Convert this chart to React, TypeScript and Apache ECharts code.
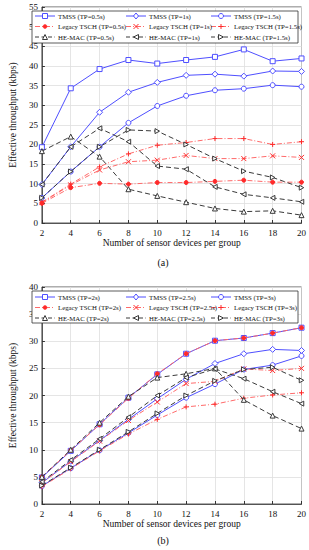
import React, { useEffect, useRef } from "react";
import * as echarts from "echarts";

const xValues = [2, 4, 6, 8, 10, 12, 14, 16, 18, 20];

// Chart (a)
const tmss05 = [19.3, 34.3, 39.2, 41.5, 40.6, 41.5, 42.3, 44.2, 41.2, 41.9];
const tmss1 = [9.8, 19.4, 28.2, 33.3, 35.8, 37.6, 37.9, 37.4, 38.7, 38.6];
const tmss15 = [6.4, 13.1, 19.4, 25.5, 29.8, 32.4, 33.8, 34.2, 35.1, 34.7];
const legacy05 = [5.0, 9.0, 10.1, 9.9, 10.3, 10.3, 10.6, 10.9, 10.4, 10.4];
const legacy1 = [5.2, 9.7, 13.5, 15.6, 16.0, 17.2, 16.4, 16.4, 17.1, 16.7];
const legacy15 = [5.3, 9.9, 14.3, 17.6, 19.8, 20.5, 21.5, 21.5, 20.0, 20.7];
const hemac05 = [18.3, 22.0, 16.9, 8.6, 6.9, 5.3, 3.7, 2.9, 3.1, 2.0];
const hemac1 = [9.8, 19.4, 24.1, 20.7, 14.5, 13.7, 9.2, 7.3, 6.4, 5.4];
const hemac15 = [6.4, 13.1, 19.4, 23.7, 23.4, 20.0, 16.4, 13.2, 11.6, 9.0];

// Chart (b)
const tmss2 = [4.9, 9.8, 14.7, 19.6, 23.9, 27.7, 30.1, 30.6, 31.5, 32.5];
const tmss25 = [3.9, 7.9, 11.7, 15.6, 19.4, 23.0, 25.9, 27.7, 28.5, 28.3];
const tmss3 = [3.3, 6.6, 9.9, 13.1, 16.4, 19.6, 22.1, 24.8, 25.6, 27.3];
const legacy2 = [5.0, 9.9, 14.6, 19.5, 24.0, 27.7, 30.1, 30.6, 31.5, 32.5];
const legacy25 = [3.9, 7.8, 11.6, 15.4, 18.8, 22.2, 22.6, 24.9, 24.6, 25.0];
const legacy3 = [3.2, 6.5, 9.8, 12.9, 15.6, 17.9, 18.4, 19.5, 20.1, 20.5];
const hemac2 = [5.0, 10.0, 15.0, 19.8, 23.3, 24.0, 25.0, 19.2, 16.3, 13.9];
const hemac25 = [4.1, 8.1, 12.0, 16.0, 20.0, 23.3, 24.9, 23.1, 20.7, 18.5];
const hemac3 = [3.4, 6.7, 10.0, 13.3, 16.7, 20.0, 22.7, 24.8, 25.2, 22.8];

const tpA = ["0.5s", "1s", "1.5s"];
const tpB = ["2s", "2.5s", "3s"];
const methods = ["TMSS", "Legacy TSCH", "HE-MAC"];

const FONT = "Liberation Serif";
const BLUE = "#4f4fff";
const RED = "#ff2a2a";
const RED_LINE = "#ff6a6a";
const DARK = "#3a3a3a";

const SYM_X = "path://M0,0L10,10M10,0L0,10";
const SYM_PLUS = "path://M5,0L5,10M0,5L10,5";
const SYM_TRI_L = "path://M0,5L9,0L9,10Z";
const SYM_TRI_R = "path://M9,5L0,0L0,10Z";

const tmssSymbols = ["rect", "diamond", "circle"];
const legacySymbols = ["circle", SYM_X, SYM_PLUS];
const hemacSymbols = ["triangle", SYM_TRI_L, SYM_TRI_R];

function pairs(vals: number[]) {
  return xValues.map((x, i) => [x, vals[i]]);
}

function tmssSeries(name: string, vals: number[], k: number, gi: number) {
  return {
    name,
    type: "line",
    xAxisIndex: gi,
    yAxisIndex: gi,
    data: pairs(vals),
    symbol: tmssSymbols[k],
    symbolSize: k === 1 ? 6 : 5,
    lineStyle: { color: BLUE, width: 1, type: "solid" },
    itemStyle: { color: "#ffffff", borderColor: BLUE, borderWidth: 1 },
    z: 2,
  };
}
function legacySeries(name: string, vals: number[], k: number, gi: number) {
  return {
    name,
    type: "line",
    xAxisIndex: gi,
    yAxisIndex: gi,
    data: pairs(vals),
    symbol: legacySymbols[k],
    symbolSize: k === 0 ? 4 : 5,
    symbolKeepAspect: true,
    lineStyle: { color: RED_LINE, width: 1, type: [5, 2, 1, 2] },
    itemStyle: { color: RED, borderColor: RED, borderWidth: 1 },
    z: 3,
  };
}
function hemacSeries(name: string, vals: number[], k: number, gi: number) {
  return {
    name,
    type: "line",
    xAxisIndex: gi,
    yAxisIndex: gi,
    data: pairs(vals),
    symbol: hemacSymbols[k],
    symbolSize: 5,
    symbolKeepAspect: true,
    lineStyle: { color: DARK, width: 1, type: [5, 3] },
    itemStyle: { color: "#ffffff", borderColor: DARK, borderWidth: 1 },
    z: 4,
  };
}

// Legend drawn as graphics for precise icon sizes
function legendMarker(method: number, k: number, cx: number, cy: number): any[] {
  const Z = 21;
  if (method === 0) {
    const st = { fill: "#fff", stroke: BLUE, lineWidth: 1 };
    if (k === 0) return [{ type: "rect", z: Z, shape: { x: cx - 2.5, y: cy - 2.5, width: 5, height: 5 }, style: st }];
    if (k === 1) return [{ type: "polygon", z: Z, shape: { points: [[cx, cy - 3], [cx + 2.5, cy], [cx, cy + 3], [cx - 2.5, cy]] }, style: st }];
    return [{ type: "circle", z: Z, shape: { cx, cy, r: 2.5 }, style: st }];
  }
  if (method === 1) {
    const st = { stroke: RED, lineWidth: 1 };
    if (k === 0) return [{ type: "circle", z: Z, shape: { cx, cy, r: 2 }, style: { fill: RED, stroke: RED, lineWidth: 0.5 } }];
    if (k === 1)
      return [
        { type: "line", z: Z, shape: { x1: cx - 2.5, y1: cy - 2.5, x2: cx + 2.5, y2: cy + 2.5 }, style: st },
        { type: "line", z: Z, shape: { x1: cx + 2.5, y1: cy - 2.5, x2: cx - 2.5, y2: cy + 2.5 }, style: st },
      ];
    return [
      { type: "line", z: Z, shape: { x1: cx, y1: cy - 2.5, x2: cx, y2: cy + 2.5 }, style: st },
      { type: "line", z: Z, shape: { x1: cx - 2.5, y1: cy, x2: cx + 2.5, y2: cy }, style: st },
    ];
  }
  const st = { fill: "#fff", stroke: DARK, lineWidth: 1 };
  if (k === 0) return [{ type: "polygon", z: Z, shape: { points: [[cx, cy - 2.5], [cx + 2.5, cy + 2.5], [cx - 2.5, cy + 2.5]] }, style: st }];
  if (k === 1) return [{ type: "polygon", z: Z, shape: { points: [[cx - 2.5, cy], [cx + 2.5, cy - 2.5], [cx + 2.5, cy + 2.5]] }, style: st }];
  return [{ type: "polygon", z: Z, shape: { points: [[cx + 2.5, cy], [cx - 2.5, cy - 2.5], [cx - 2.5, cy + 2.5]] }, style: st }];
}

function legendGraphics(tps: string[], boxTop: number, rowYs: number[]): any[] {
  const colX = [35, 126, 211];
  const out: any[] = [
    { type: "rect", z: 20, shape: { x: 32, y: boxTop, width: 266, height: 32 }, style: { fill: "#fff", stroke: "#333", lineWidth: 0.8 } },
  ];
  const lineStyles = [
    { stroke: BLUE, lineWidth: 1 },
    { stroke: RED_LINE, lineWidth: 1, lineDash: [5, 2, 1, 2] },
    { stroke: DARK, lineWidth: 1, lineDash: [4, 2.5] },
  ];
  tps.forEach((tp, c) => {
    methods.forEach((m, r) => {
      const x0 = colX[c];
      const y = rowYs[r];
      out.push({ type: "line", z: 21, shape: { x1: x0, y1: y, x2: x0 + 20, y2: y }, style: lineStyles[r] });
      out.push(...legendMarker(r, c, x0 + 10, y));
      out.push({
        type: "text",
        z: 22,
        x: x0 + 23,
        y,
        style: { text: `${m} (TP=${tp})`, fontFamily: FONT, fontSize: 6.8, fill: "#111", textAlign: "left", textVerticalAlign: "middle" },
      });
    });
  });
  return out;
}

function xAxis(gi: number) {
  return {
    type: "value",
    gridIndex: gi,
    min: 2,
    max: 20,
    interval: 2,
    name: "Number of sensor devices per group",
    nameLocation: "middle",
    nameGap: 15,
    nameTextStyle: { fontFamily: FONT, fontSize: 9.5, color: "#111" },
    axisLine: { show: true, lineStyle: { color: "#333", width: 0.8 } },
    axisTick: { show: true, inside: true, length: 3, lineStyle: { color: "#333" } },
    axisLabel: { fontFamily: FONT, fontSize: 9, color: "#111", margin: 5 },
    splitLine: { show: true, lineStyle: { color: "#dedede", width: 0.8 } },
  };
}
function yAxis(gi: number, max: number) {
  return {
    type: "value",
    gridIndex: gi,
    min: 0,
    max,
    interval: 5,
    name: "Effective throughput (kbps)",
    nameLocation: "middle",
    nameGap: 14,
    nameTextStyle: { fontFamily: FONT, fontSize: 9.5, color: "#111" },
    axisLine: { show: true, lineStyle: { color: "#333", width: 0.8 } },
    axisTick: { show: true, inside: true, length: 3, lineStyle: { color: "#333" } },
    axisLabel: { fontFamily: FONT, fontSize: 9, color: "#111", margin: 4 },
    splitLine: { show: true, lineStyle: { color: "#dedede", width: 0.8 } },
  };
}

export default function App() {
  const ref = useRef<HTMLDivElement>(null);
  useEffect(() => {
    if (!ref.current) return;
    const chart = echarts.init(ref.current, null, { renderer: "svg" });
    const seriesA = [
      tmssSeries(`TMSS (TP=${tpA[0]})`, tmss05, 0, 0),
      tmssSeries(`TMSS (TP=${tpA[1]})`, tmss1, 1, 0),
      tmssSeries(`TMSS (TP=${tpA[2]})`, tmss15, 2, 0),
      legacySeries(`Legacy TSCH (TP=${tpA[0]})`, legacy05, 0, 0),
      legacySeries(`Legacy TSCH (TP=${tpA[1]})`, legacy1, 1, 0),
      legacySeries(`Legacy TSCH (TP=${tpA[2]})`, legacy15, 2, 0),
      hemacSeries(`HE-MAC (TP=${tpA[0]})`, hemac05, 0, 0),
      hemacSeries(`HE-MAC (TP=${tpA[1]})`, hemac1, 1, 0),
      hemacSeries(`HE-MAC (TP=${tpA[2]})`, hemac15, 2, 0),
    ];
    const seriesB = [
      tmssSeries(`TMSS (TP=${tpB[0]})`, tmss2, 0, 1),
      tmssSeries(`TMSS (TP=${tpB[1]})`, tmss25, 1, 1),
      tmssSeries(`TMSS (TP=${tpB[2]})`, tmss3, 2, 1),
      legacySeries(`Legacy TSCH (TP=${tpB[0]})`, legacy2, 0, 1),
      legacySeries(`Legacy TSCH (TP=${tpB[1]})`, legacy25, 1, 1),
      legacySeries(`Legacy TSCH (TP=${tpB[2]})`, legacy3, 2, 1),
      hemacSeries(`HE-MAC (TP=${tpB[0]})`, hemac2, 0, 1),
      hemacSeries(`HE-MAC (TP=${tpB[1]})`, hemac25, 1, 1),
      hemacSeries(`HE-MAC (TP=${tpB[2]})`, hemac3, 2, 1),
    ];
    chart.setOption({
      animation: false,
      backgroundColor: "#ffffff",
      textStyle: { fontFamily: FONT },
      grid: [
        { left: 27, top: 7, width: 275, height: 216, show: true, borderColor: "#333", borderWidth: 0.8, backgroundColor: "transparent" },
        { left: 27, top: 287, width: 275, height: 217, show: true, borderColor: "#333", borderWidth: 0.8, backgroundColor: "transparent" },
      ],
      xAxis: [xAxis(0), xAxis(1)],
      yAxis: [yAxis(0, 55), yAxis(1, 40)],
      graphic: [
        ...legendGraphics(tpA, 11, [16, 26.5, 37]),
        ...legendGraphics(tpB, 291, [297, 307.5, 318]),
        { type: "text", x: 163, y: 262, style: { text: "(a)", fontFamily: FONT, fontSize: 10, fill: "#111", textAlign: "center", textVerticalAlign: "middle" } },
        { type: "text", x: 163, y: 540, style: { text: "(b)", fontFamily: FONT, fontSize: 10, fill: "#111", textAlign: "center", textVerticalAlign: "middle" } },
      ],
      series: [...seriesA, ...seriesB],
    });
    return () => chart.dispose();
  }, []);
  return (
    <div
      ref={ref}
      style={{ position: "fixed", left: 0, top: 0, width: 309, height: 550, background: "#fff" }}
    />
  );
}
